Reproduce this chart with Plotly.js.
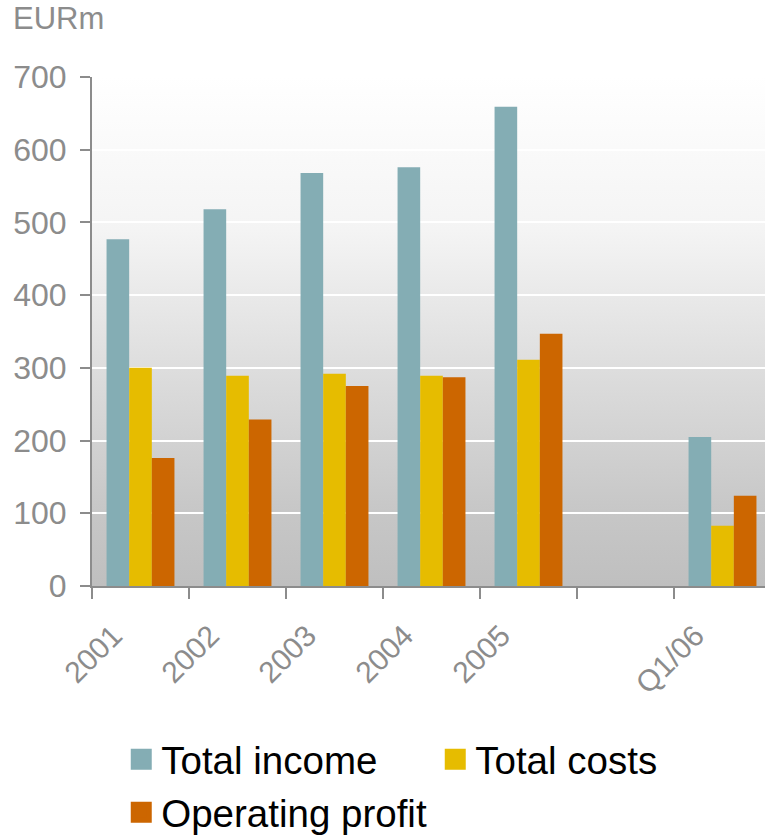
<!DOCTYPE html>
<html>
<head>
<meta charset="utf-8">
<script src="https://cdn.plot.ly/plotly-3.0.1.min.js"></script>
<style>
html, body { margin: 0; padding: 0; background: #ffffff; overflow: hidden; }
#chart { width: 765px; height: 836px; }
</style>
</head>
<body>
<div id="chart"></div>
<script>
// ---- data ----
const categories = ['2001', '2002', '2003', '2004', '2005', ' ', 'Q1/06'];
const totalIncome = [477, 518, 568, 576, 659, null, 205];
const totalCosts = [300, 289, 292, 289, 311, null, 83];
const operatingProfit = [176, 229, 275, 287, 347, null, 124];
const seriesNames = ['Total income', 'Total costs', 'Operating profit'];
const unitLabel = 'EURm';

// ---- styles ----
const colors = ['#84adb4', '#e6bc00', '#cc6600'];
const gray = '#8c8c8c';
const font = 'Liberation Sans, Arial, sans-serif';

const values = [totalIncome, totalCosts, operatingProfit];

const traces = values.map((v, i) => ({
  type: 'bar',
  x: categories,
  y: v,
  name: seriesNames[i],
  marker: { color: colors[i], line: { width: 0 } },
  showlegend: false,
  hoverinfo: 'x+y+name'
}));

// legend entries (larger square swatches)
seriesNames.forEach((n, i) => {
  traces.push({
    type: 'scatter',
    mode: 'markers',
    x: [null],
    y: [null],
    name: n,
    marker: { symbol: 'square', size: 16, color: colors[i], line: { color: colors[i], width: 5 } },
    showlegend: true,
    hoverinfo: 'skip'
  });
});

const gradSvg = "<svg xmlns='http://www.w3.org/2000/svg' width='10' height='100' preserveAspectRatio='none'>" +
  "<defs><linearGradient id='g' x1='0' y1='0' x2='0' y2='1'>" +
  "<stop offset='0' stop-color='#ffffff'/>" +
  "<stop offset='0.3' stop-color='#f4f4f4'/>" +
  "<stop offset='0.6' stop-color='#dbdbdb'/>" +
  "<stop offset='0.85' stop-color='#c7c7c7'/>" +
  "<stop offset='1' stop-color='#bfbfbf'/>" +
  "</linearGradient></defs><rect width='10' height='100' fill='url(#g)'/></svg>";
const gradUri = 'data:image/svg+xml;charset=utf-8,' + encodeURIComponent(gradSvg);

const layout = {
  width: 765,
  height: 836,
  margin: { l: 92, r: 0, t: 77, b: 250, pad: 0 },
  paper_bgcolor: '#ffffff',
  plot_bgcolor: 'rgba(0,0,0,0)',
  barmode: 'group',
  bargap: 0.3,
  bargroupgap: 0,
  font: { family: font, color: gray },
  showlegend: true,
  images: [{
    source: gradUri,
    xref: 'paper', yref: 'paper',
    x: 0, y: 1, sizex: 1, sizey: 1,
    xanchor: 'left', yanchor: 'top',
    sizing: 'stretch',
    layer: 'below'
  }],
  xaxis: {
    type: 'category',
    categoryorder: 'array',
    categoryarray: categories,
    range: [-0.5, 6.438],
    autorange: false,
    showgrid: false,
    zeroline: false,
    showline: true,
    linecolor: gray,
    linewidth: 2,
    ticks: 'outside',
    tickson: 'boundaries',
    ticklen: 11,
    tickwidth: 2,
    tickcolor: gray,
    tickangle: -45,
    tickfont: { family: font, size: 30, color: gray },
    ticklabelshift: -27,
    ticklabelstandoff: 18,
    fixedrange: true
  },
  yaxis: {
    range: [0, 700],
    autorange: false,
    dtick: 100,
    tick0: 0,
    showgrid: true,
    gridcolor: '#ffffff',
    gridwidth: 2,
    zeroline: false,
    showline: true,
    linecolor: gray,
    linewidth: 2,
    ticks: 'outside',
    ticklen: 10,
    tickwidth: 2,
    tickcolor: gray,
    tickfont: { family: font, size: 32, color: gray },
    ticklabelstandoff: 7,
    fixedrange: true
  },
  legend: {
    orientation: 'h',
    xref: 'container', yref: 'container',
    x: 0.1585, y: 0.1295,
    xanchor: 'left', yanchor: 'top',
    entrywidth: 269,
    entrywidthmode: 'pixels',
    itemsizing: 'trace',
    font: { family: font, size: 38.5, color: '#000000' },
    bgcolor: 'rgba(0,0,0,0)',
    tracegroupgap: 0
  },
  annotations: [{
    text: unitLabel,
    xref: 'paper', yref: 'paper',
    x: -92 / 673, y: 1,
    xanchor: 'left', yanchor: 'bottom',
    xshift: 11, yshift: 39,
    showarrow: false,
    font: { family: font, size: 31, color: gray }
  }]
};

Plotly.newPlot('chart', traces, layout, { displayModeBar: false, staticPlot: true });
</script>
</body>
</html>
